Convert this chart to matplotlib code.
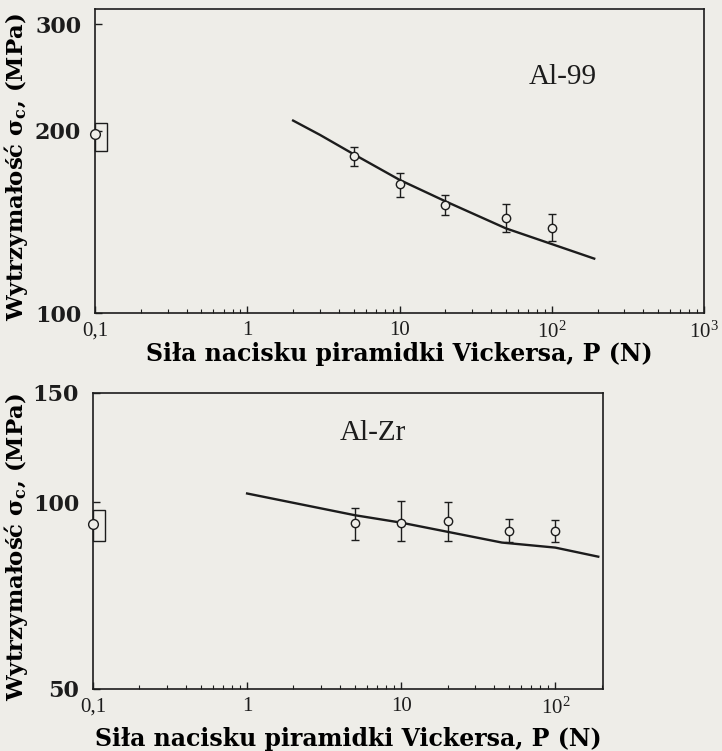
import matplotlib

matplotlib.use("Agg")
import matplotlib.pyplot as plt
from matplotlib.patches import Rectangle
from matplotlib.ticker import NullFormatter, NullLocator

# Al-99 (upper panel)
al99_load = [5, 10, 20, 50, 100]
al99_strength = [181.8, 163.2, 150.6, 143.6, 138.4]
al99_err_hi = [188.4, 170.6, 156.5, 151.2, 145.9]
al99_err_lo = [175.0, 155.4, 145.1, 135.9, 131.4]
al99_fit_load = [2, 3, 5, 10, 20, 50, 100, 190]
al99_fit = [208, 197, 183, 166, 153, 138, 130, 123]
al99_ref_load = 0.1
al99_ref = 198
al99_ref_lo, al99_ref_hi = 185, 206

# Al-Zr (lower panel)
alzr_load = [5, 10, 20, 50, 100]
alzr_strength = [92.7, 92.7, 93.1, 89.8, 89.8]
alzr_err_hi = [98.0, 100.5, 100.1, 93.8, 93.6]
alzr_err_lo = [86.9, 86.6, 86.7, 86.3, 86.4]
alzr_fit_load = [1, 5, 10, 20, 45, 100, 190]
alzr_fit = [103.3, 95.3, 92.7, 89.6, 86.1, 84.5, 81.7]
alzr_ref_load = 0.1
alzr_ref = 92.1
alzr_ref_lo, alzr_ref_hi = 86.5, 97.1

ref_box_right = 0.12

top_xticks = [0.1, 1, 10, 100, 1000]
top_xlabels = ["0,1", "1", "10", "$10^2$", "$10^3$"]
bot_xticks = [0.1, 1, 10, 100]
bot_xlabels = ["0,1", "1", "10", "$10^2$"]
top_yticks = [100, 200, 300]
bot_yticks = [50, 100, 150]

xlabel = "Siła nacisku piramidki Vickersa, P (N)"
ylabel = r"Wytrzymałość σ$_\mathbf{c}$, (MPa)"

paper = "#eeede8"
ink = "#1c1c1c"
wide_serif = "DejaVu Serif"

plt.rcParams["font.family"] = "Liberation Serif"
plt.rcParams["mathtext.fontset"] = "custom"
plt.rcParams["mathtext.rm"] = "Liberation Serif"
plt.rcParams["mathtext.bf"] = "DejaVu Serif:bold"
plt.rcParams["mathtext.it"] = "Liberation Serif:italic"
plt.rcParams["text.color"] = ink
plt.rcParams["axes.edgecolor"] = ink
plt.rcParams["xtick.color"] = ink
plt.rcParams["ytick.color"] = ink


def draw_panel(ax, load, strength, lo, hi, fit_load, fit, ref_load, ref, ref_lo, ref_hi,
               xlim, ylim, xticks, xlabels, yticks, name, name_pos, xlabel_y, ylabel_x):
    ax.set_facecolor(paper)
    ax.set_xscale("log")
    ax.set_yscale("log")

    ax.plot(fit_load, fit, color=ink, linewidth=1.7)
    yerr = [[s - l for s, l in zip(strength, lo)], [h - s for s, h in zip(strength, hi)]]
    ax.errorbar(load, strength, yerr=yerr, fmt="o", mfc=paper, mec=ink, ms=6, mew=1.0,
                ecolor=ink, elinewidth=1.0, capsize=2.8, capthick=1.0)

    ax.add_patch(Rectangle((ref_load, ref_lo), ref_box_right - ref_load, ref_hi - ref_lo,
                           fill=False, edgecolor=ink, linewidth=1.0, clip_on=False))
    ax.plot([ref_load], [ref], "o", mfc=paper, mec=ink, ms=7, mew=1.0, clip_on=False,
            zorder=5)

    ax.set_xlim(*xlim)
    ax.set_ylim(*ylim)
    ax.set_xticks(xticks, xlabels)
    ax.xaxis.set_minor_formatter(NullFormatter())
    ax.set_yticks(yticks, [str(t) for t in yticks])
    ax.yaxis.set_minor_locator(NullLocator())
    ax.yaxis.set_minor_formatter(NullFormatter())

    ax.tick_params(axis="both", which="both", direction="in", top=False, right=False)
    ax.tick_params(axis="x", which="major", length=5, width=1.0, labelsize=15, pad=6)
    ax.tick_params(axis="x", which="minor", length=3, width=0.8)
    ax.tick_params(axis="y", which="major", length=5, width=1.0, labelsize=16, pad=10)
    for lab in ax.get_yticklabels():
        lab.set_fontweight("bold")
        lab.set_family(wide_serif)
    for spine in ax.spines.values():
        spine.set_linewidth(1.2)

    ax.text(name_pos[0], name_pos[1], name, transform=ax.transAxes, fontsize=21,
            ha="center", va="center")
    ax.set_xlabel(xlabel, fontsize=17, fontweight="bold", family=wide_serif, va="top")
    ax.xaxis.set_label_coords(0.5, xlabel_y)
    ax.set_ylabel(ylabel, fontsize=16.5, fontweight="bold", family=wide_serif)
    ax.yaxis.set_label_coords(ylabel_x, 0.48)


fig = plt.figure(figsize=(7.22, 7.51), dpi=100, facecolor=paper)
ax_top = fig.add_axes([0.1316, 0.5832, 0.8435, 0.4048])
ax_bot = fig.add_axes([0.1288, 0.0826, 0.7064, 0.3941])

draw_panel(ax_top, al99_load, al99_strength, al99_err_lo, al99_err_hi, al99_fit_load, al99_fit,
           al99_ref_load, al99_ref, al99_ref_lo, al99_ref_hi, (0.1, 1000), (100, 318),
           top_xticks, top_xlabels, top_yticks, "Al-99", (0.768, 0.776), -0.095, -0.107)
draw_panel(ax_bot, alzr_load, alzr_strength, alzr_err_lo, alzr_err_hi, alzr_fit_load, alzr_fit,
           alzr_ref_load, alzr_ref, alzr_ref_lo, alzr_ref_hi, (0.1, 204), (50, 150),
           bot_xticks, bot_xlabels, bot_yticks, "Al-Zr", (0.549, 0.865), -0.13, -0.124)

fig.savefig("out.png", dpi=100, facecolor=paper)
